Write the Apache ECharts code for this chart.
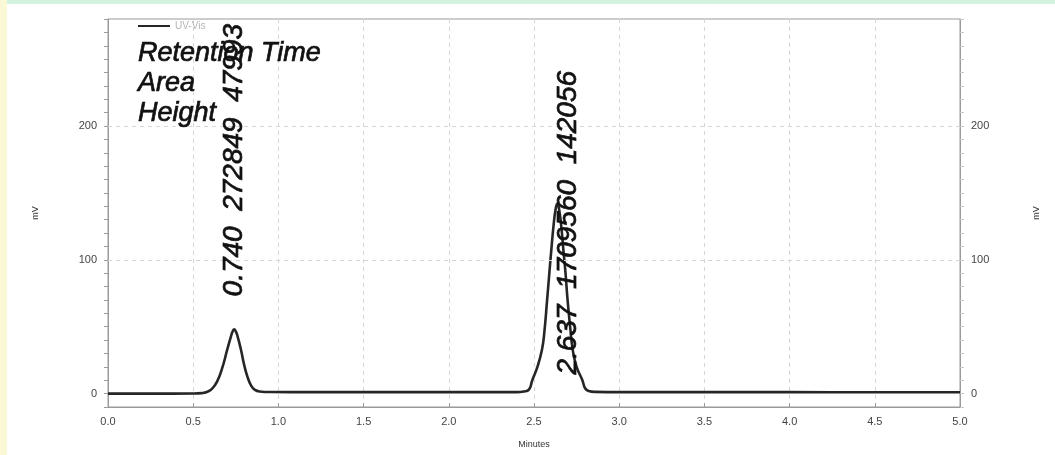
<!DOCTYPE html>
<html>
<head>
<meta charset="utf-8">
<title>UV-Vis chromatogram</title>
<script src="https://cdn.jsdelivr.net/npm/echarts@6/dist/echarts.min.js"></script>
<style>
  html, body { margin: 0; padding: 0; background: #ffffff; }
  #chart { width: 1055px; height: 455px; }
</style>
</head>
<body>
<div id="chart"></div>
<script>
// Detector trace: time (min) and signal (mV)
const traceMinutes = [
  0.00, 0.25, 0.50, 0.55, 0.58, 0.61, 0.64, 0.67, 0.70, 0.72, 0.73, 0.740,
  0.75, 0.76, 0.78, 0.80, 0.82, 0.84, 0.86, 0.89, 0.95, 1.20, 1.60, 2.00,
  2.40, 2.44, 2.47, 2.49, 2.52, 2.547, 2.56, 2.577, 2.59, 2.602, 2.615, 2.627, 2.637,
  2.647, 2.66, 2.672, 2.685, 2.697, 2.712, 2.727, 2.75, 2.784, 2.80, 2.82, 2.86,
  3.00, 3.50, 4.00, 4.50, 5.00
];
const traceMilliVolts = [
  0.0, 0.0, 0.1, 0.4, 1.2, 3.5, 9, 19, 33, 42, 46, 47.993,
  46.5, 43, 33, 21, 12, 6, 3, 1.6, 1.2, 1.1, 1.1, 1.1,
  1.1, 1.6, 3, 10, 20, 33, 45, 70, 90, 108, 126, 138, 142.056,
  138, 125, 108, 90, 70, 50, 33, 20, 10, 4, 2, 1.3,
  1.1, 1.1, 1.1, 1.0, 1.0
];

// Integration results per peak
const retentionTimes = [0.740, 2.637];   // min
const peakAreas = [272849, 1709560];     // µV·s
const peakHeights = [47993, 142056];     // µV

// Axis ticks and reference levels
const timeTicks = ['0.0', '0.5', '1.0', '1.5', '2.0', '2.5', '3.0', '3.5', '4.0', '4.5', '5.0'];
const signalLabels = [0, 100, 200];
const gridLevels = [100, 200];

// Screen shift (px: right, down) of each peak annotation from its apex
const peakLabelShift = [[0, -33], [11, 171]];

const chart = echarts.init(document.getElementById('chart'), null, { renderer: 'canvas' });

const font = 'Liberation Sans, Arial, sans-serif';
const axisGray = '#9a9a9a';
const labelGray = '#444444';
const ink = '#111111';

function signalAxis(position, nameGap, tickColor) {
  return {
    type: 'value',
    position: position,
    min: -10,
    max: 280,
    interval: 10,
    name: 'mV',
    nameLocation: 'middle',
    nameRotate: 90,
    nameGap: nameGap,
    nameTextStyle: { fontFamily: font, fontSize: 9, color: '#333' },
    axisLine: { show: true, onZero: false, lineStyle: { color: axisGray, width: 1 } },
    axisTick: { show: true, length: 4, lineStyle: { color: tickColor } },
    axisLabel: {
      fontFamily: font, fontSize: 11, color: labelGray, margin: 11,
      formatter: v => (signalLabels.indexOf(Math.round(v)) >= 0 && Math.abs(v - Math.round(v)) < 1e-6) ? String(Math.round(v)) : ''
    },
    splitLine: { show: false }
  };
}

const option = {
  backgroundColor: '#ffffff',
  animation: false,
  graphic: [
    { type: 'rect', left: 0, top: 0, shape: { width: 1055, height: 4 }, style: { fill: '#d3f2df' }, silent: true },
    { type: 'rect', left: 0, top: 0, shape: { width: 7, height: 455 }, style: { fill: '#fbf8d6' }, silent: true }
  ],
  title: {
    text: 'Retention Time\nArea\nHeight',
    left: 138,
    top: 38,
    padding: 0,
    textStyle: {
      fontFamily: font, fontStyle: 'italic', fontWeight: 'normal',
      fontSize: 27, lineHeight: 30, color: ink,
      textBorderColor: ink, textBorderWidth: 0.7
    }
  },
  legend: {
    data: ['UV-Vis'],
    left: 138,
    top: 21,
    padding: 0,
    icon: 'rect',
    itemWidth: 32,
    itemHeight: 2,
    itemGap: 8,
    textStyle: { fontFamily: font, fontSize: 10, color: '#b5b5b5' },
    selectedMode: false
  },
  grid: {
    left: 108, right: 95, top: 19, bottom: 48,
    show: true, borderColor: axisGray, borderWidth: 1, backgroundColor: 'transparent'
  },
  xAxis: {
    type: 'value',
    min: 0,
    max: 5,
    interval: 0.5,
    name: 'Minutes',
    nameLocation: 'middle',
    nameGap: 33,
    nameTextStyle: { fontFamily: font, fontSize: 9, color: '#333' },
    axisLine: { show: true, onZero: false, lineStyle: { color: axisGray, width: 1 } },
    axisTick: { show: true, inside: true, length: 4, lineStyle: { color: axisGray } },
    axisLabel: {
      fontFamily: font, fontSize: 11, color: labelGray, margin: 9,
      formatter: v => timeTicks[Math.round(v / 0.5)]
    },
    splitLine: { show: true, lineStyle: { color: '#d6d6d6', type: [4, 4], width: 1 } }
  },
  yAxis: [
    signalAxis('left', 68, axisGray),
    signalAxis('right', 72, '#c8c8c8')
  ],
  series: [{
    name: 'UV-Vis',
    type: 'line',
    yAxisIndex: 0,
    data: traceMinutes.map((t, i) => [t, traceMilliVolts[i]]),
    showSymbol: false,
    smooth: 0.5,
    color: '#262626',
    lineStyle: { color: '#262626', width: 2.6, join: 'round' },
    z: 3,
    markLine: {
      silent: true,
      symbol: 'none',
      label: { show: false },
      lineStyle: { color: '#d6d6d6', type: [4, 4], width: 1 },
      data: gridLevels.map(v => ({ yAxis: v }))
    },
    markPoint: {
      symbol: 'circle',
      symbolSize: 1,
      itemStyle: { color: 'rgba(0,0,0,0)' },
      z: 5,
      data: retentionTimes.map((rt, i) => ({
        coord: [rt, peakHeights[i] / 1000],
        value: peakHeights[i],
        label: {
          show: true,
          position: 'inside',
          rotate: 90,
          align: 'left',
          verticalAlign: 'middle',
          // the label offset works in the rotated text frame
          offset: [-peakLabelShift[i][1], peakLabelShift[i][0]],
          fontFamily: font,
          fontStyle: 'italic',
          fontSize: 28,
          color: ink,
          textBorderColor: ink,
          textBorderWidth: 0.7,
          formatter: () => rt.toFixed(3) + '  ' + peakAreas[i] + '  ' + peakHeights[i]
        }
      }))
    }
  }]
};

chart.setOption(option);
</script>
</body>
</html>
